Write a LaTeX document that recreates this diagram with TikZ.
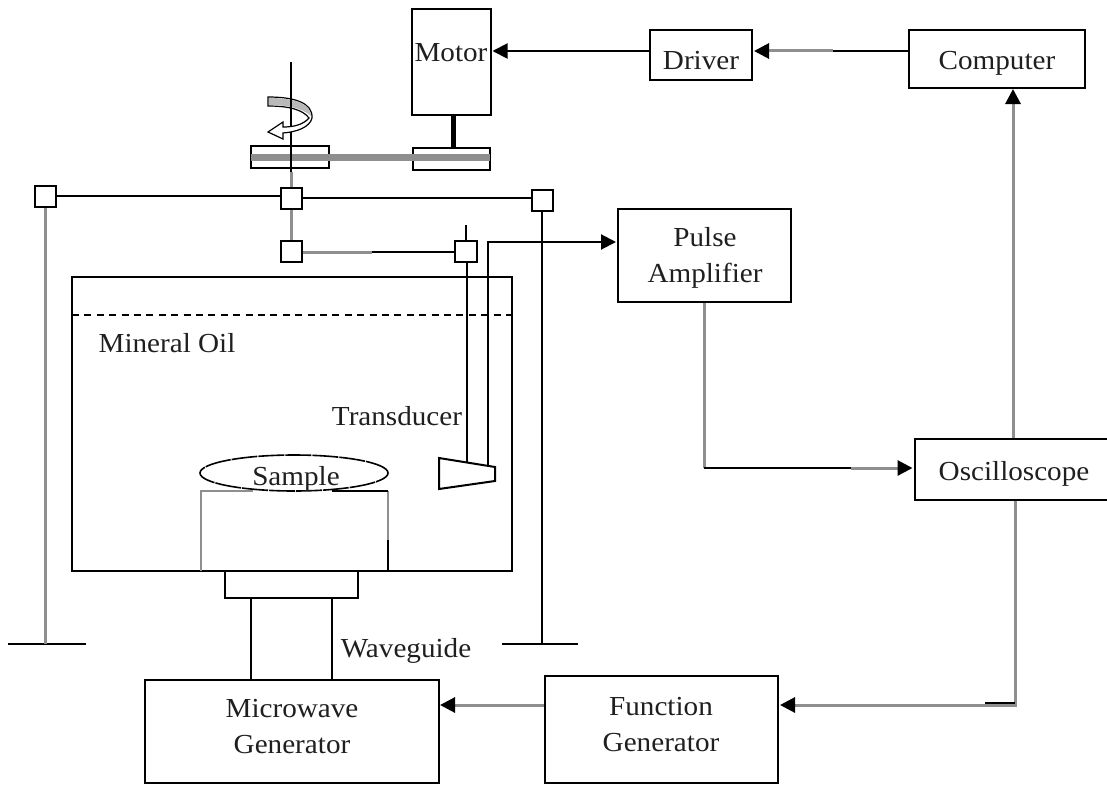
\documentclass[tikz,border=0pt]{standalone}
\usepackage{fontspec}
\setmainfont[FakeStretch=1.06]{Liberation Serif}
\usetikzlibrary{arrows.meta,shapes.geometric}
\definecolor{gl}{gray}{0.56}
\definecolor{txt}{gray}{0.12}
\tikzset{
  x=1pt,y=-1pt,
  line/.style={draw=black,line width=2pt},
  grayline/.style={draw=gl,line width=3pt},
  arr/.style={-{Triangle[length=15pt,width=15pt,color=black]},shorten >=1pt},
  box/.style={draw=black,line width=2pt,fill=white,rectangle,inner sep=0pt},
  lab/.style={inner sep=0pt,align=center,text=txt,font=\fontsize{27.5}{36}\selectfont},
  sq/.style={draw=black,line width=2pt,fill=white,rectangle,inner sep=0pt,minimum width=21pt,minimum height=21pt}
}
\begin{document}
\begin{tikzpicture}
\useasboundingbox (0,0) rectangle (1107,784);
% tank
\draw[line] (72,277) rectangle (512,571);
\draw[line,dash pattern=on 7pt off 5.4pt] (72,315) -- (512,315);
% stand
\coordinate (l1b) at (45,644); \coordinate (r1b) at (542,644);
\draw[line] (8,644) -- (86,644);
\draw[line] (502,644) -- (578,644);
% boxes
\node[box,minimum width=79pt,minimum height=105pt] (motor) at (451,62) {};
\node[box,minimum width=102pt,minimum height=50pt] (driver) at (701,55) {};
\node[box,minimum width=176pt,minimum height=57pt] (computer) at (997,59) {};
\node[box,minimum width=173pt,minimum height=93pt] (pulse) at (704.5,255.5) {};
\node[box,minimum width=193pt,minimum height=61pt] (osc) at (1011,469) {};
\node[box,minimum width=294pt,minimum height=103pt] (mw) at (292,731) {};
\node[box,minimum width=233pt,minimum height=107pt] (fg) at (661.5,729) {};
% box texts
\node[lab] (motorl) at (451,53) {Motor};
\node[lab] (driverl) at (701,61) {Driver};
\node[lab] (computerl) at (997,63) {Computer};
\node[lab] (pulsel) at (705,258) {Pulse\\Amplifier};
\node[lab] (oscl) at (1014,474) {Oscilloscope};
\node[lab] (mwl) at (292,727) {Microwave\\Generator};
\node[lab] (fgl) at (661,725) {Function\\Generator};
% pulleys
\node[box,minimum width=78pt,minimum height=22pt] (p1) at (290,157) {};
\node[box,minimum width=77pt,minimum height=22pt] (p2) at (451.5,159) {};
\coordinate (stemt) at (453,114);\coordinate (stemb) at (453,148);
\draw[line,line width=5pt] (stemt) -- (stemb);
\coordinate (p1w) at (251,157);\coordinate (p2e) at (490,157);
\draw[draw=gl,line width=7pt] (p1w) -- (p2e);
% vertical shaft
\coordinate (shtop) at (291,62);
\coordinate (shmid) at (291,122);
\coordinate (shbot) at (291,172);
\node[sq] (s1) at (291,198) {};
\node[sq] (s2) at (291,251) {};
\draw[grayline] (s1) -- (s2);
\draw[grayline] (shbot) -- (s1);
\draw[line] (shtop) -- (shbot);
% rotation arrow
\draw[draw=black,line width=1.2pt,fill=white] (268,97) .. controls (295,97) and (313,103) .. (312,118) .. controls (310,127) and (297,132) .. (283,133) -- (283,139) -- (268,132) -- (283,122) -- (283,127) .. controls (293,127) and (303,125) .. (309,118) .. controls (303,110) and (290,106) .. (268,106) -- cycle;
\fill[gray!55] (269,98) .. controls (295,98) and (311,104) .. (311,116) .. controls (303,109) and (290,105) .. (269,105) -- cycle;
\draw[line] (shtop) -- (shmid);
% horizontal bars
\node[sq] (h1) at (45,196) {};
\node[sq] (h2) at (542,200) {};
\draw[line] (h1.east) -- (h1.east -| s1.west);
\draw[line] (s1.east) -- (s1.east -| h2.west);
\draw[grayline] (h1) -- (l1b);
\draw[line] (h2) -- (r1b);
\node[sq,minimum width=22pt] (s3) at (465.5,251) {};
\coordinate (mid) at (372,252);
\draw[grayline] (s2.east |- mid) -- (mid);
\draw[line] (mid) -- (mid -| s3.west);
\coordinate (s3t) at (466,225);
\draw[line] (s3t) -- (s3.north -| s3t);
% transducer
\coordinate (trl) at (467,462);\coordinate (trr) at (488,465);\coordinate (trc) at (488,242);
\draw[line,fill=white] (439,458) -- (495,467) -- (495,481) -- (439,489) -- cycle;
\draw[line] (s3.south -| trl) -- (trl);
\draw[line,arr] (trr) -- (trc) -- (pulse.west |- trc);
% sample block
\coordinate (sgl) at (253,491);\coordinate (sgr) at (332,491);\coordinate (sbr) at (388,540);
\draw[draw=gl,line width=2.6pt] (201,571) -- (201,491) -- (sgl);
\draw[draw=gl,line width=2.6pt] (388,491) -- (sbr);
\draw[line] (sbr) -- (388,571);
\draw[line] (sgr) -- (388,491);
\node[draw=black,line width=1.6pt,dash pattern=on 26pt off 1pt,ellipse,minimum width=188pt,minimum height=36pt,inner sep=0pt] (sample) at (294,473) {};
\node[lab] (samplel) at (296,479) {Sample};
% waveguide
\node[box,minimum width=133pt,minimum height=27pt] (wg) at (291.5,584.5) {};
\draw[line] (251,598) -- (251,679);
\draw[line] (332,598) -- (332,679);
% labels
\node[lab] (oil) at (167,343) {Mineral Oil};
\node[lab] (tr) at (397,416) {Transducer};
\node[lab] (wgl) at (406,651) {Waveguide};
% signal lines
\coordinate (cd) at (833,51);
\coordinate (oy) at (851,468);
\draw[line] (computer.west |- cd) -- (cd);
\draw[grayline,arr] (cd) -- (driver.east |- cd);
\draw[line,arr] (driver.west |- cd) -- (motor.east |- cd);
\coordinate (up) at (1013,88);
\draw[grayline,arr] (osc.north -| up) -- (up);
\coordinate (pd) at (704,468);
\draw[grayline] (pulse.south -| pd) -- (pd);
\draw[line] (pd) -- (oy);
\draw[grayline,arr] (oy) -- (osc.west |- oy);
\coordinate (fm) at (439,705);
\draw[grayline,arr] (fg.west |- fm) -- (fm);
\coordinate (of) at (1015,705);
\coordinate (ofk) at (985,703);
\draw[grayline,arr] (osc.south -| of) -- (of) -- (fg.east |- of);
\draw[draw=black,line width=1.2pt] (ofk) -- (ofk -| of);
\end{tikzpicture}
\end{document}
